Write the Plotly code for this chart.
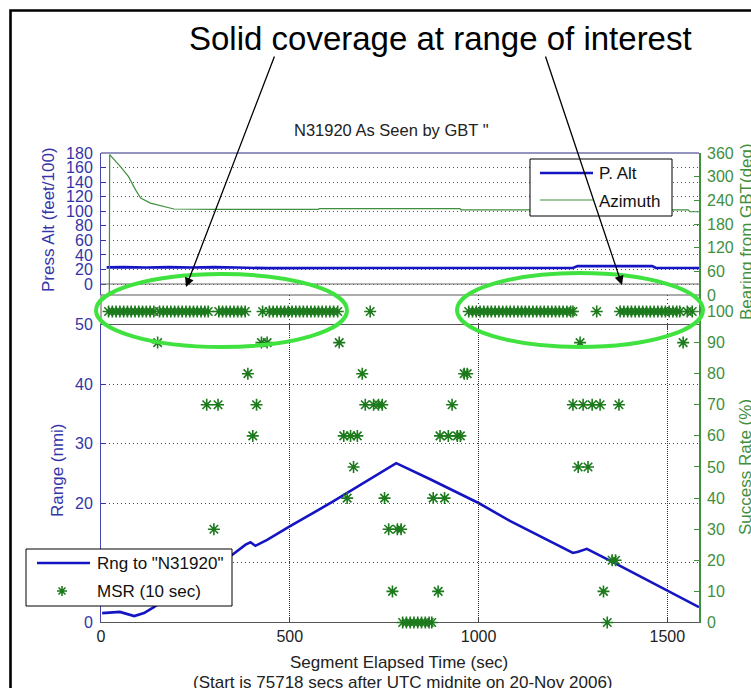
import plotly.graph_objects as go

W, H = 751, 688
FONT = "Liberation Sans, Arial, Helvetica, sans-serif"
BLUE = "#1414c4"
BLUE_TXT = "#3434a8"
GREEN_LINE = "#3f8f3f"
GREEN_TXT = "#3f8f3f"
MSR_GREEN = "#1c7a1c"
HILITE = "#3fe23f"

# ---------------- data ----------------
# pressure altitude (feet/100) vs segment elapsed time (sec)
alt_t = [15, 60, 120, 180, 240, 300, 360, 430, 440, 700, 900, 1250, 1262, 1460, 1470, 1584]
alt_val = [22.8, 23.2, 22.6, 23.2, 22.6, 23.2, 22.6, 22.8, 21.8, 22.0, 22.0, 22.0, 24.6, 24.6, 22.0, 22.0]

# bearing from GBT (deg)
az_t = [22, 23, 52, 73, 92, 105, 131, 175, 193, 300, 576, 578, 951, 953, 1200, 1555, 1560, 1584]
az_deg = [0, 356, 325, 300, 266, 246, 233, 221, 218, 217, 217, 219, 219, 216, 216, 216, 211, 211]

# range to N31920 (nmi)
rng_t = [3, 50, 88, 114, 140, 200, 300, 348, 383, 396, 409, 440, 501, 616, 782, 872,
         1000, 1083, 1250, 1264, 1287, 1300, 1361, 1584]
rng_nmi = [1.5, 1.7, 1.0, 1.5, 2.5, 5.2, 9.5, 11.3, 13.0, 13.4, 12.8, 13.8, 16.1, 20.3, 26.7, 24.0,
           20.0, 17.0, 11.6, 11.8, 12.3, 11.9, 9.9, 2.5]

# MSR (10 sec) samples at 100 %
msr_t_full = [20, 30, 40, 50, 60, 70, 80, 90, 100, 110, 120, 130, 140,
              155, 165, 175, 185, 195, 205, 215, 225, 235, 245, 255, 265, 275, 284,
              312, 322, 332, 342, 352, 362, 372, 382,
              428,
              446, 456, 466, 476, 486, 496, 506, 516, 526, 536, 546, 556, 566, 576, 586, 596, 606, 616, 627,
              713,
              974, 984, 994, 1004, 1014, 1024, 1034, 1044, 1054, 1064, 1074, 1084, 1094, 1104, 1114,
              1124, 1134, 1144, 1154, 1164, 1174, 1184, 1194, 1204, 1214, 1224, 1234, 1244, 1250,
              1313,
              1375, 1385, 1395, 1405, 1415, 1425, 1435, 1445, 1455, 1465, 1475, 1485, 1495, 1505, 1515, 1525, 1533,
              1553, 1566]

# MSR (10 sec) samples below 100 %
msr_t_part = [150, 425, 440, 631, 1269, 1542,
              389, 692, 962, 970,
              280, 310, 412, 700, 722, 735, 745, 930, 1250, 1277, 1301, 1322, 1372,
              402, 643, 661, 679, 898, 920, 944, 952,
              669, 1264, 1290,
              652, 751, 880, 910,
              299, 762, 785, 795,
              1354, 1363,
              772, 893, 1331,
              799, 809, 819, 829, 839, 849, 859, 869, 876, 1341]
msr_pct_part = [90, 90, 90, 90, 90, 90,
                80, 80, 80, 80,
                70, 70, 70, 70, 70, 70, 70, 70, 70, 70, 70, 70, 70,
                60, 60, 60, 60, 60, 60, 60, 60,
                50, 50, 50,
                40, 40, 40, 40,
                30, 30, 30, 30,
                20, 20,
                10, 10, 10,
                0, 0, 0, 0, 0, 0, 0, 0, 0, 0]

msr_t = msr_t_full + msr_t_part
msr_pct = [100] * len(msr_t_full) + msr_pct_part

X_MAX = 1584
alt_ticks = [0, 20, 40, 60, 80, 100, 120, 140, 160, 180]
az_ticks = [0, 60, 120, 180, 240, 300, 360]
rng_ticks = [0, 10, 20, 30, 40, 50]
msr_ticks = [0, 10, 20, 30, 40, 50, 60, 70, 80, 90, 100]
t_ticks = [0, 500, 1000, 1500]


def px(x):
    return x / W


def py(y):
    return 1 - y / H


XD = [px(101), px(699)]
DOTS = "1px,3px"

fig = go.Figure()

fig.add_trace(go.Scatter(x=alt_t, y=alt_val, xaxis="x3", yaxis="y3", mode="lines",
                         line=dict(color=BLUE, width=2.6), showlegend=False))
fig.add_trace(go.Scatter(x=az_t, y=az_deg, xaxis="x3", yaxis="y4", mode="lines",
                         line=dict(color=GREEN_LINE, width=1.2), showlegend=False))
fig.add_trace(go.Scatter(x=rng_t, y=rng_nmi, xaxis="x", yaxis="y", mode="lines",
                         line=dict(color=BLUE, width=2.6), showlegend=False))
fig.add_trace(go.Scatter(x=msr_t, y=msr_pct, xaxis="x", yaxis="y2", mode="markers",
                         marker=dict(symbol="asterisk-open", size=10, color=MSR_GREEN,
                                     line=dict(color=MSR_GREEN, width=1.6)),
                         cliponaxis=False, showlegend=False))
# pixel overlay used for the annotation graphics
fig.add_trace(go.Scatter(x=[None], y=[None], xaxis="x5", yaxis="y5", showlegend=False))

tickfont_blue = dict(family=FONT, size=16, color=BLUE_TXT)
tickfont_green = dict(family=FONT, size=16, color=GREEN_TXT)

fig.update_layout(
    template="none",
    width=W, height=H, margin=dict(l=0, r=0, t=0, b=0, pad=0, autoexpand=False),
    paper_bgcolor="white", plot_bgcolor="rgba(0,0,0,0)",
    font=dict(family=FONT, size=16, color="#222"),
    showlegend=False,
    xaxis=dict(domain=XD, range=[0, X_MAX], anchor="y", tickvals=t_ticks, automargin=False,
               ticks="inside", ticklen=5, tickcolor="#444", showline=True, linecolor="#555",
               linewidth=1, mirror="ticks", showgrid=True, gridcolor="#333", griddash=DOTS,
               gridwidth=1, zeroline=False,
               tickfont=dict(family=FONT, size=16, color="#222")),
    yaxis=dict(domain=[py(622), py(324.5)], range=[0, 50], anchor="x", tickvals=rng_ticks,
               automargin=False, ticks="inside", ticklen=5, tickcolor=BLUE_TXT, showline=True,
               linecolor="#4646b4", linewidth=1, showgrid=True, gridcolor="#3a3a90",
               griddash=DOTS, zeroline=False, tickfont=tickfont_blue, ticklabelstandoff=4),
    yaxis2=dict(domain=[py(622.5), py(295)], range=[0, 105.3], anchor="x", side="right",
                automargin=False, tickvals=msr_ticks, ticks="inside", ticklen=5,
                tickcolor=GREEN_TXT, showline=True, linecolor=GREEN_LINE, linewidth=1.6,
                showgrid=False, zeroline=False, tickfont=tickfont_green, ticklabelstandoff=3),
    xaxis3=dict(domain=XD, range=[0, X_MAX], anchor="y3", showticklabels=False, ticks="",
                automargin=False, showgrid=False, showline=False, zeroline=False),
    yaxis3=dict(domain=[py(295), py(153)], range=[-15.1, 180], anchor="x3", tickvals=alt_ticks,
                automargin=False, ticks="inside", ticklen=5, tickcolor=BLUE_TXT, showline=True,
                linecolor="#4646b4", linewidth=1, showgrid=True, gridcolor="#4a4aa0",
                griddash=DOTS, zeroline=False, tickfont=tickfont_blue, ticklabelstandoff=4),
    yaxis4=dict(overlaying="y3", side="right", anchor="x3", range=[0, 360], tickvals=az_ticks,
                automargin=False, ticks="inside", ticklen=5, tickcolor=GREEN_TXT,
                showline=True, linecolor=GREEN_LINE, linewidth=1.6, showgrid=False,
                zeroline=False, tickfont=tickfont_green, ticklabelstandoff=3),
    xaxis5=dict(domain=[0, 1], range=[0, W], anchor="y5", visible=False, fixedrange=True,
                automargin=False),
    yaxis5=dict(domain=[0, 1], range=[H, 0], anchor="x5", visible=False, fixedrange=True,
                automargin=False),
)

shapes = []
ov = dict(xref="x5", yref="y5", layer="above")

# outer frame
shapes.append(dict(type="rect", x0=10.5, y0=10.5, x1=780, y1=720,
                   line=dict(color="black", width=2.6), **ov))
# upper panel box edges and the strip between the panels
shapes.append(dict(type="line", x0=101, y0=153, x1=699, y1=153,
                   line=dict(color="#2a2a80", width=1.2), **ov))
shapes.append(dict(type="line", xref="paper", yref="y3", x0=XD[0], x1=XD[1], y0=0, y1=0,
                   line=dict(color="#6a6a6a", width=1.2), layer="above"))
shapes.append(dict(type="line", x0=101, y0=295, x1=699, y1=295,
                   line=dict(color="#5a5a5a", width=1.2), **ov))
shapes.append(dict(type="line", x0=101, y0=295, x1=101, y1=324.5,
                   line=dict(color="#5a5a5a", width=1), **ov))

# highlight ellipses
shapes.append(dict(type="circle", x0=96, y0=274, x1=347, y1=347,
                   line=dict(color=HILITE, width=4), **ov))
shapes.append(dict(type="circle", x0=457, y0=273, x1=703, y1=347,
                   line=dict(color=HILITE, width=4), **ov))

# legend boxes
shapes.append(dict(type="rect", x0=530, y0=159, x1=672, y1=216, fillcolor="white",
                   line=dict(color="black", width=1), **ov))
shapes.append(dict(type="line", x0=540, y0=173, x1=593, y1=173,
                   line=dict(color=BLUE, width=2.6), **ov))
shapes.append(dict(type="line", x0=540, y0=200, x1=593, y1=200,
                   line=dict(color=GREEN_LINE, width=1.2), **ov))

shapes.append(dict(type="rect", x0=26, y0=549, x1=232, y1=606, fillcolor="white",
                   line=dict(color="black", width=1), **ov))
shapes.append(dict(type="line", x0=37, y0=563, x1=90, y1=563,
                   line=dict(color=BLUE, width=2.6), **ov))
cx, cy, r, d = 62, 591, 5, 3.5
star = (f"M{cx},{cy - r} L{cx},{cy + r} M{cx - r},{cy} L{cx + r},{cy} "
        f"M{cx - d},{cy - d} L{cx + d},{cy + d} M{cx - d},{cy + d} L{cx + d},{cy - d}")
shapes.append(dict(type="path", path=star, line=dict(color=MSR_GREEN, width=1.6), **ov))

fig.update_layout(shapes=shapes)

ann = []


def text(x, y, s, size=17, color="#111", angle=0, xanchor="center"):
    ann.append(dict(xref="x5", yref="y5", x=x, y=y, text=s, showarrow=False,
                    font=dict(family=FONT, size=size, color=color), textangle=angle,
                    xanchor=xanchor, yanchor="middle"))


text(440, 38, "Solid coverage at range of interest", size=33, color="black")
text(391, 130, "N31920 As Seen by GBT \"", size=16.5, color="#222")
text(48, 220, "Press Alt (feet/100)", color=BLUE_TXT, angle=-90)
text(57, 470, "Range (nmi)", color=BLUE_TXT, angle=-90)
text(746, 232, "Bearing from GBT(deg)", color=GREEN_TXT, angle=-90)
text(745, 467, "Success Rate (%)", color=GREEN_TXT, angle=-90)
text(399, 662, "Segment Elapsed Time (sec)", color="#222")
text(403, 682, "(Start is 75718 secs after UTC midnite on 20-Nov 2006)", color="#222")
text(597, 173, "P. Alt", xanchor="left")
text(597, 201, "Azimuth", xanchor="left")
text(95, 563, "Rng to \"N31920\"", xanchor="left")
text(95, 591, "MSR (10 sec)", xanchor="left")

# callout arrows
for (tx, ty, hx, hy) in [(275, 55, 186, 287), (545, 55, 622, 285)]:
    ann.append(dict(xref="x5", yref="y5", axref="x5", ayref="y5", x=hx, y=hy, ax=tx, ay=ty,
                    text="", showarrow=True, arrowhead=2, arrowsize=1.4, arrowwidth=1.3,
                    arrowcolor="black", standoff=0))

fig.update_layout(annotations=ann)

fig.write_html("out.html")
